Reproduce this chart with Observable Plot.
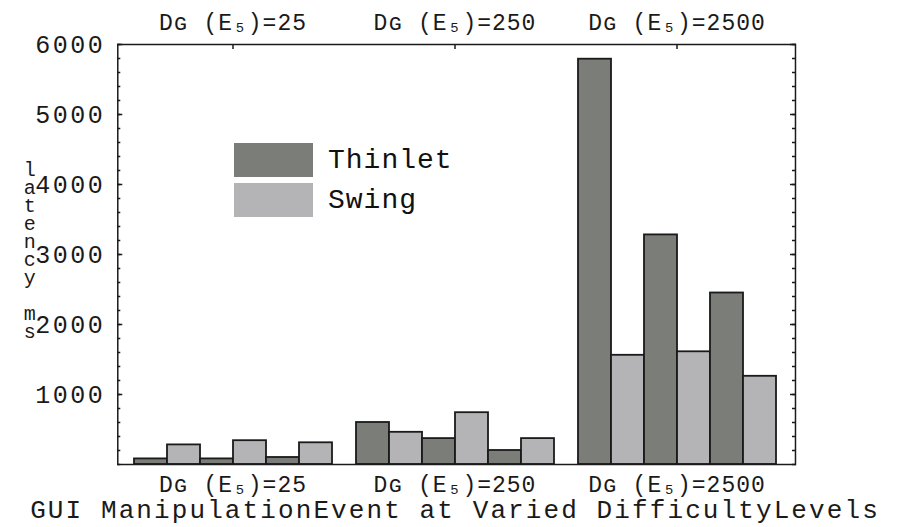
<!DOCTYPE html>
<html>
<head>
<meta charset="utf-8">
<script src="https://cdn.jsdelivr.net/npm/d3@7"></script>
<script src="https://cdn.jsdelivr.net/npm/@observablehq/plot@0.6"></script>
<style>
  html, body { margin: 0; padding: 0; background: #fff; }
  #wrap { position: relative; width: 901px; height: 527px; font-family: "Liberation Mono", "DejaVu Sans Mono", monospace; }
  #legend { position: absolute; left: 234px; top: 143px; }
  .item { display: flex; align-items: center; height: 34px; margin-bottom: 6px; }
  .sw { width: 79px; height: 34px; margin-right: 15px; }
  .lab { font-size: 28px; letter-spacing: 1px; color: #111; }
</style>
</head>
<body>
<div id="wrap"></div>
<script>
const groups = ["25", "250", "2500"];
const seriesNames = ["Thinlet", "Swing"];
const seriesColors = ["#7b7d79", "#b4b3b6"];
const thinlet = [80, 80, 100, 600, 370, 200, 5790, 3280, 2450];
const swing = [280, 340, 310, 460, 740, 370, 1560, 1610, 1260];
const yMajor = [1000, 2000, 3000, 4000, 5000, 6000];
const yMinor = d3.range(0, 6001, 200);
const groupLabel = g => `Dɢ (E₅)=${g}`;
const xTitle = "GUI ManipulationEvent at Varied DifficultyLevels";
const yTitle = "l\na\nt\ne\nn\nc\ny\n \nm\ns";

const rows = [];
groups.forEach((g, gi) => {
  for (let r = 0; r < 3; r++) {
    rows.push({group: g, slot: 2 * r, series: "Thinlet", value: thinlet[gi * 3 + r]});
    rows.push({group: g, slot: 2 * r + 1, series: "Swing", value: swing[gi * 3 + r]});
  }
});

const W = 901, H = 527, ML = 117, MR = 106, MT = 44, MB = 63;
const fxOpts = {paddingInner: 0.095, paddingOuter: 0.0736, align: 0.45};
// offsets between facet bands and the outer frame, from the same band scale
const band = d3.scaleBand().domain(groups).range([ML, W - MR])
  .paddingInner(fxOpts.paddingInner).paddingOuter(fxOpts.paddingOuter).align(fxOpts.align);
const leftOff = band(groups[0]) - ML;
const rightOff = (W - MR) - (band(groups[groups.length - 1]) + band.bandwidth());

const font = "Liberation Mono, DejaVu Sans Mono, monospace";
const ink = "#1a1a1a";
const tickStyle = {tickFormat: () => "", stroke: ink, strokeWidth: 1.5, label: null};

const plot = Plot.plot({
  width: W,
  height: H,
  marginLeft: ML,
  marginRight: MR,
  marginTop: MT,
  marginBottom: MB,
  style: {fontFamily: font, background: "white", color: ink},
  fx: {domain: groups, ...fxOpts, axis: null, label: null},
  x: {domain: d3.range(6), padding: 0, axis: null},
  y: {domain: [0, 6000], axis: null},
  color: {domain: seriesNames, range: seriesColors},
  marks: [
    Plot.barY(rows, {fx: "group", x: "slot", y: "value", fill: "series", stroke: ink, strokeWidth: 1.8}),
    Plot.frame({facet: "super", insetLeft: -leftOff, insetRight: -rightOff, stroke: ink, strokeWidth: 1.5}),
    // inward ticks: shift each tick by its own length into the frame
    Plot.axisY({anchor: "left", dx: -leftOff + 5, ticks: yMajor, tickSize: 5, ...tickStyle}),
    Plot.axisY({anchor: "left", dx: -leftOff + 3, ticks: yMinor, tickSize: 3, ...tickStyle}),
    Plot.axisY({anchor: "right", dx: rightOff - 6, ticks: yMajor, tickSize: 6, ...tickStyle}),
    Plot.axisY({anchor: "right", dx: rightOff - 4, ticks: yMinor, tickSize: 4, ...tickStyle}),
    Plot.axisFx({anchor: "top", dy: 4, tickSize: 4, ...tickStyle}),
    Plot.axisY({anchor: "left", dx: -leftOff, ticks: yMajor, tickSize: 0, tickPadding: 12.5, tickFormat: d => String(d), fontSize: 25, label: null}),
    Plot.axisFx({anchor: "top", tickSize: 0, tickPadding: 15, tickFormat: groupLabel, fontSize: 23, label: null}),
    Plot.axisFx({anchor: "bottom", tickSize: 0, tickPadding: 11.5, tickFormat: groupLabel, fontSize: 23, label: null}),
    Plot.text([xTitle], {facet: "super", text: d => d, frameAnchor: "bottom", dy: 53, fontSize: 26, fill: ink}),
    Plot.text([yTitle], {facet: "super", text: d => d, frameAnchor: "left", textAnchor: "middle", dx: -88 - leftOff, dy: -3, fontSize: 20, lineHeight: 0.9, fill: ink})
  ]
});

const wrap = document.getElementById("wrap");
wrap.appendChild(plot);

d3.select(plot).selectAll("text").each(function() {
  const t = this.textContent;
  const el = d3.select(this);
  if (t === xTitle) el.attr("letter-spacing", "2.1px");
  else if (/^\d+$/.test(t)) el.attr("letter-spacing", "2.5px");
  else if (t.startsWith("D")) el.attr("letter-spacing", "1px");
});

const color = plot.scale("color");
const legend = document.createElement("div");
legend.id = "legend";
seriesNames.forEach(name => {
  const item = document.createElement("div");
  item.className = "item";
  const sw = document.createElement("div");
  sw.className = "sw";
  sw.style.background = color.apply(name);
  const lab = document.createElement("div");
  lab.className = "lab";
  lab.textContent = name;
  item.appendChild(sw);
  item.appendChild(lab);
  legend.appendChild(item);
});
wrap.appendChild(legend);
</script>
</body>
</html>
